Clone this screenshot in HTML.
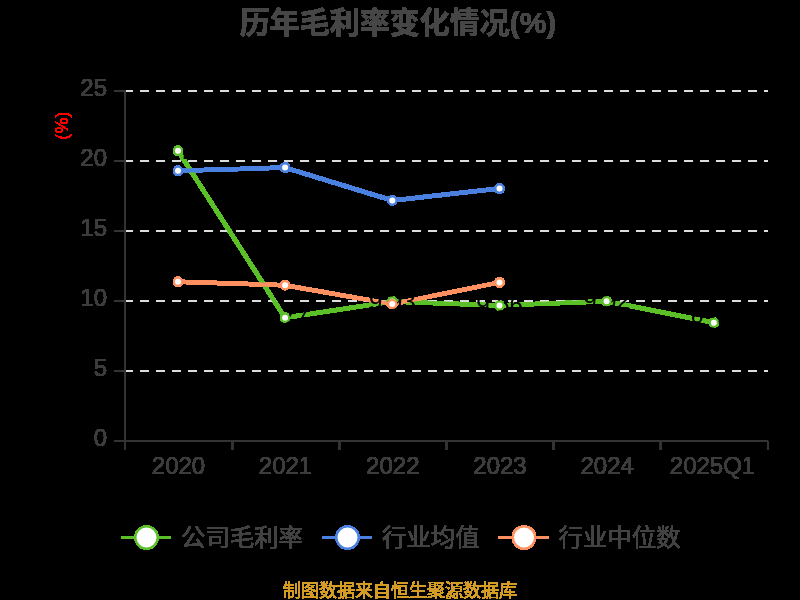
<!DOCTYPE html>
<html><head><meta charset="utf-8"><title>chart</title>
<style>
html,body{margin:0;padding:0;background:#000000;font-family:"Liberation Sans",sans-serif;}
svg{display:block}
</style></head>
<body>
<svg width="800" height="600" viewBox="0 0 800 600">
<defs><filter id="t" x="0" y="0" width="800" height="600" filterUnits="userSpaceOnUse" color-interpolation-filters="sRGB"><feComponentTransfer><feFuncA type="discrete" tableValues="0 1 1 1 1 1 1 1 1 1 1 1 1 1 1 1 1 1 1 1 1 1 1 1 1 1 1 1 1 1 1 1 1 1 1 1 1 1 1 1 1 1 1 1 1 1 1 1 1 1 1 1 1 1 1 1 1 1 1 1 1 1 1 1"/></feComponentTransfer></filter><filter id="t2" x="-50" y="-50" width="900" height="700" filterUnits="userSpaceOnUse" color-interpolation-filters="sRGB"><feComponentTransfer><feFuncA type="discrete" tableValues="0 0 0 1 1 1 1 1"/></feComponentTransfer></filter></defs>
<g filter="url(#t)">
<text x="398" y="33" font-size="30" font-weight="bold" fill="#464646" text-anchor="middle" font-family='"Liberation Sans", "Noto Sans CJK SC", sans-serif'>历年毛利率变化情况(%)</text>
<path d="M124 91H133M140 91H149M156 91H165M172 91H181M188 91H197M204 91H213M220 91H229M236 91H245M252 91H261M268 91H277M284 91H293M300 91H309M316 91H325M332 91H341M348 91H357M364 91H373M380 91H389M396 91H405M412 91H421M428 91H437M444 91H453M460 91H469M476 91H485M492 91H501M508 91H517M524 91H533M540 91H549M556 91H565M572 91H581M588 91H597M604 91H613M620 91H629M636 91H645M652 91H661M668 91H677M684 91H693M700 91H709M716 91H725M732 91H741M748 91H757M764 91H768" stroke="#dddddd" stroke-width="2" fill="none"/>
<path d="M124 161H133M140 161H149M156 161H165M172 161H181M188 161H197M204 161H213M220 161H229M236 161H245M252 161H261M268 161H277M284 161H293M300 161H309M316 161H325M332 161H341M348 161H357M364 161H373M380 161H389M396 161H405M412 161H421M428 161H437M444 161H453M460 161H469M476 161H485M492 161H501M508 161H517M524 161H533M540 161H549M556 161H565M572 161H581M588 161H597M604 161H613M620 161H629M636 161H645M652 161H661M668 161H677M684 161H693M700 161H709M716 161H725M732 161H741M748 161H757M764 161H768" stroke="#dddddd" stroke-width="2" fill="none"/>
<path d="M124 231H133M140 231H149M156 231H165M172 231H181M188 231H197M204 231H213M220 231H229M236 231H245M252 231H261M268 231H277M284 231H293M300 231H309M316 231H325M332 231H341M348 231H357M364 231H373M380 231H389M396 231H405M412 231H421M428 231H437M444 231H453M460 231H469M476 231H485M492 231H501M508 231H517M524 231H533M540 231H549M556 231H565M572 231H581M588 231H597M604 231H613M620 231H629M636 231H645M652 231H661M668 231H677M684 231H693M700 231H709M716 231H725M732 231H741M748 231H757M764 231H768" stroke="#dddddd" stroke-width="2" fill="none"/>
<path d="M124 301H133M140 301H149M156 301H165M172 301H181M188 301H197M204 301H213M220 301H229M236 301H245M252 301H261M268 301H277M284 301H293M300 301H309M316 301H325M332 301H341M348 301H357M364 301H373M380 301H389M396 301H405M412 301H421M428 301H437M444 301H453M460 301H469M476 301H485M492 301H501M508 301H517M524 301H533M540 301H549M556 301H565M572 301H581M588 301H597M604 301H613M620 301H629M636 301H645M652 301H661M668 301H677M684 301H693M700 301H709M716 301H725M732 301H741M748 301H757M764 301H768" stroke="#dddddd" stroke-width="2" fill="none"/>
<path d="M124 371H133M140 371H149M156 371H165M172 371H181M188 371H197M204 371H213M220 371H229M236 371H245M252 371H261M268 371H277M284 371H293M300 371H309M316 371H325M332 371H341M348 371H357M364 371H373M380 371H389M396 371H405M412 371H421M428 371H437M444 371H453M460 371H469M476 371H485M492 371H501M508 371H517M524 371H533M540 371H549M556 371H565M572 371H581M588 371H597M604 371H613M620 371H629M636 371H645M652 371H661M668 371H677M684 371H693M700 371H709M716 371H725M732 371H741M748 371H757M764 371H768" stroke="#dddddd" stroke-width="2" fill="none"/>
<path d="M125 90V442M124 441H768" stroke="#333333" stroke-width="2" fill="none"/>
<path d="M114 91H125M114 161H125M114 231H125M114 301H125M114 371H125M114 441H125" stroke="#333333" stroke-width="2" fill="none"/>
<path d="M125.00 441V450M232.17 441V450M339.33 441V450M446.50 441V450M553.67 441V450M660.83 441V450M768.00 441V450" stroke="#333333" stroke-width="2" fill="none"/>
<g font-family='"Liberation Sans", sans-serif' font-size="24" fill="#3c3c3c" text-anchor="end">
<text x="107" y="95.7">25</text>
<text x="107" y="165.7">20</text>
<text x="107" y="235.7">15</text>
<text x="107" y="305.7">10</text>
<text x="107" y="375.7">5</text>
<text x="107" y="445.7">0</text>
</g>
<g font-family='"Liberation Sans", sans-serif' font-size="24" fill="#3c3c3c" text-anchor="middle">
<text x="178.5" y="473.5">2020</text>
<text x="285.5" y="473.5">2021</text>
<text x="392.8" y="473.5">2022</text>
<text x="500" y="473.5">2023</text>
<text x="607.2" y="473.5">2024</text>
<text x="712.5" y="473.5">2025Q1</text>
</g>
<path d="M178.0 150.8L285.1 317.8L392.3 301.6L499.5 305.4L606.6 301.3L713.8 322.7" stroke="#5BC028" stroke-width="4" fill="none" stroke-linejoin="bevel"/>
<path d="M178.0 170.8L285.1 167.6L392.3 200.5L499.5 188.6" stroke="#4A80E0" stroke-width="4" fill="none" stroke-linejoin="bevel"/>
<path d="M178.0 281.7L285.1 285.2L392.3 304.1L499.5 282.4" stroke="#FF9060" stroke-width="4" fill="none" stroke-linejoin="bevel"/>
<g font-family='"Liberation Sans", sans-serif' font-size="24" fill="#000000" text-anchor="middle">
<text x="176" y="158.8">20.71</text>
<text x="285.1" y="325.8">8.77</text>
<text x="392.3" y="309.6">9.93</text>
<text x="499.5" y="313.4">9.66</text>
<text x="606.6" y="309.3">9.92</text>
<text x="713.8" y="330.7">8.36</text>
</g>
<circle cx="178.0" cy="150.8" r="4" fill="#fff" stroke="#5BC028" stroke-width="2"/>
<circle cx="285.1" cy="317.8" r="4" fill="#fff" stroke="#5BC028" stroke-width="2"/>
<circle cx="392.3" cy="301.6" r="4" fill="#fff" stroke="#5BC028" stroke-width="2"/>
<circle cx="499.5" cy="305.4" r="4" fill="#fff" stroke="#5BC028" stroke-width="2"/>
<circle cx="606.6" cy="301.3" r="4" fill="#fff" stroke="#5BC028" stroke-width="2"/>
<circle cx="713.8" cy="322.7" r="4" fill="#fff" stroke="#5BC028" stroke-width="2"/>
<circle cx="178.0" cy="170.8" r="4" fill="#fff" stroke="#4A80E0" stroke-width="2"/>
<circle cx="285.1" cy="167.6" r="4" fill="#fff" stroke="#4A80E0" stroke-width="2"/>
<circle cx="392.3" cy="200.5" r="4" fill="#fff" stroke="#4A80E0" stroke-width="2"/>
<circle cx="499.5" cy="188.6" r="4" fill="#fff" stroke="#4A80E0" stroke-width="2"/>
<circle cx="178.0" cy="281.7" r="4" fill="#fff" stroke="#FF9060" stroke-width="2"/>
<circle cx="285.1" cy="285.2" r="4" fill="#fff" stroke="#FF9060" stroke-width="2"/>
<circle cx="392.3" cy="304.1" r="4" fill="#fff" stroke="#FF9060" stroke-width="2"/>
<circle cx="499.5" cy="282.4" r="4" fill="#fff" stroke="#FF9060" stroke-width="2"/>
<path d="M121 537.5H171" stroke="#5BC028" stroke-width="2" fill="none"/>
<circle cx="146.5" cy="537.5" r="11" fill="#fff" stroke="#5BC028" stroke-width="2"/>
<text x="181" y="546" font-size="24.4" fill="#424242" font-family='"Liberation Sans", "Noto Sans CJK SC", sans-serif'>公司毛利率</text>
<path d="M322 537.5H372" stroke="#4A80E0" stroke-width="2" fill="none"/>
<circle cx="347.5" cy="537.5" r="11" fill="#fff" stroke="#4A80E0" stroke-width="2"/>
<text x="382" y="546" font-size="24.4" fill="#424242" font-family='"Liberation Sans", "Noto Sans CJK SC", sans-serif'>行业均值</text>
<path d="M498.5 537.5H548.5" stroke="#FF9060" stroke-width="2" fill="none"/>
<circle cx="524.0" cy="537.5" r="11" fill="#fff" stroke="#FF9060" stroke-width="2"/>
<text x="558.5" y="546" font-size="24.4" fill="#424242" font-family='"Liberation Sans", "Noto Sans CJK SC", sans-serif'>行业中位数</text>
<text x="400" y="596.5" font-size="18" fill="#D29C26" text-anchor="middle" font-family='"Liberation Sans", "Noto Sans CJK SC", sans-serif'>制图数据来自恒生聚源数据库</text>
</g>
<text x="0" y="0" font-size="18" fill="#FF0000" stroke="#FF0000" stroke-width="0.3" text-anchor="middle" font-family='"Liberation Sans", sans-serif' transform="translate(68,125.6) rotate(-90)" filter="url(#t2)">(%)</text>
</svg>
</body></html>
